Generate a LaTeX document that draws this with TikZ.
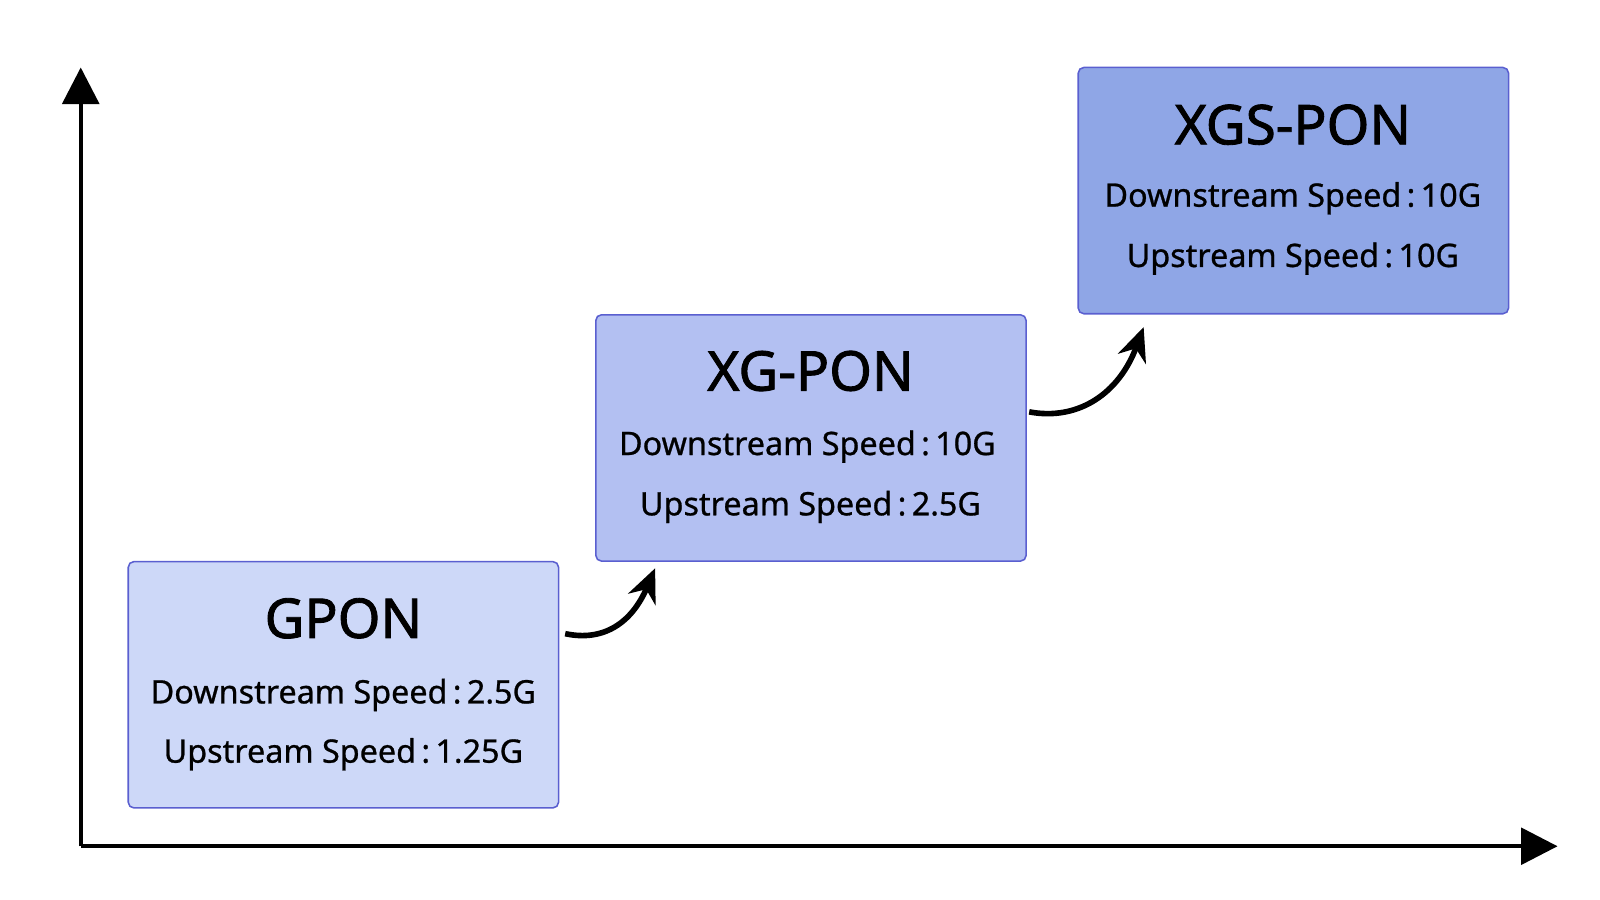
\documentclass[tikz,border=0pt]{standalone}
\usepackage{fontspec}
\setmainfont{Noto Sans}
\newfontfamily\ttlfont[FakeBold=1.6]{Noto Sans}
\newfontfamily\subfont[FakeBold=0.8]{Noto Sans}
\usetikzlibrary{arrows.meta}
\definecolor{bordc}{HTML}{5A5FD0}
\definecolor{fa}{HTML}{CDD8F8}
\definecolor{fb}{HTML}{B3C0F2}
\definecolor{fc}{HTML}{8FA6E6}
\tikzset{
  px/.style={x=0.0511cm,y=-0.0511cm},
  card/.style={draw=bordc,line width=2.2pt,rounded corners=8pt,minimum width=421*0.0511cm,minimum height=241*0.0511cm,inner sep=0pt},
  ttl/.style={font=\ttlfont\fontsize{78}{88}\selectfont},
  sub/.style={font=\subfont\fontsize{46}{54}\selectfont},
  axis/.style={line width=6pt,-{Triangle[length=52pt,width=52pt]}},
  curv/.style={line width=8pt,-{Stealth[length=48pt,width=42pt]}}
}
\begin{document}
\begin{tikzpicture}[px]
\useasboundingbox (0,0) rectangle (80cm,-45cm);
\coordinate (o) at (79,828);
\coordinate (yt) at (79,66);
\coordinate (xt) at (1524,828);
\draw[axis] (o) -- (yt);
\draw[axis] (o) -- (xt);
\node[card,fill=fa] (g) at (336,670) {};
\node[card,fill=fb] (xg) at (793.5,428.5) {};
\node[card,fill=fc] (xgs) at (1265.5,186.5) {};
\node[ttl] (gt) at (336,605) {GPON};
\node[sub] (g1) at (336,680) {Downstream Speed\,:\,2.5G};
\node[sub] (g2) at (336,738) {Upstream Speed\,:\,1.25G};
\node[ttl] (xt1) at (793,363) {XG-PON};
\node[sub] (x1) at (790,437) {Downstream Speed\,:\,10G};
\node[sub] (x2) at (793,496) {Upstream Speed\,:\,2.5G};
\node[ttl] (st) at (1265,122) {XGS-PON};
\node[sub] (s1) at (1265,194) {Downstream Speed\,:\,10G};
\node[sub] (s2) at (1265,253) {Upstream Speed\,:\,10G};
\coordinate (a1s) at (553,620);
\coordinate (a1e) at (641,556);
\coordinate (a2s) at (1007,403);
\coordinate (a2e) at (1119,320);
\draw[curv] (a1s) .. controls (590,628) and (618,610) .. (a1e);
\draw[curv] (a2s) .. controls (1055,412) and (1095,385) .. (a2e);
\end{tikzpicture}
\end{document}
